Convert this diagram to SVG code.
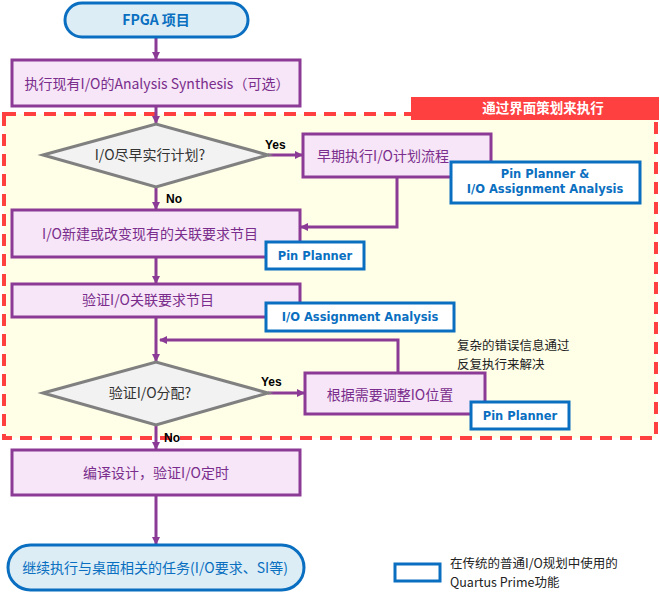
<svg xmlns="http://www.w3.org/2000/svg" width="660" height="595" viewBox="0 0 660 595">
<defs>
<marker id="ah" markerWidth="8" markerHeight="8" refX="7" refY="4" orient="auto" markerUnits="userSpaceOnUse">
<path d="M0,0 L8,4 L0,8 Z" fill="#8b3a96"/>
</marker>
<style>
.term{fill:#dcedf6;stroke:#0a6fc0;stroke-width:3}
.proc{fill:#f6e6f7;stroke:#8b3a96;stroke-width:3}
.dec{fill:#f2f2f2;stroke:#808080;stroke-width:3}
.tool{fill:#ffffff;stroke:#0a6fc0;stroke-width:3}
.pt{font-family:"Noto Sans CJK SC","Noto Sans",sans-serif;font-size:14px;fill:#7a2d8c;text-anchor:middle}
.dt{font-family:"Noto Sans CJK SC","Noto Sans",sans-serif;font-size:14px;fill:#333333;text-anchor:middle}
.tt{font-family:"Noto Sans CJK SC","Noto Sans",sans-serif;font-size:14px;fill:#0a6fc0;text-anchor:middle}
.bt{font-family:"DejaVu Sans",Verdana,sans-serif;font-size:11.5px;font-weight:bold;fill:#0a6fc0;text-anchor:middle}
.yn{font-family:"Liberation Sans",Arial,sans-serif;font-size:12px;font-weight:bold;fill:#000000}
.note{font-family:"Noto Sans CJK SC",sans-serif;font-size:12.5px;fill:#222222}
.cn{fill:none;stroke:#8b3a96;stroke-width:3}
</style>
</defs>
<rect width="660" height="595" fill="#ffffff"/>

<g id="region">
<rect x="4" y="114" width="652" height="324" fill="#fffee6" stroke="#ff4040" stroke-width="4" stroke-dasharray="12,8"/>
<rect x="411" y="97" width="248" height="23" fill="#ff4040"/>
<text x="543" y="113" font-family="Noto Sans CJK SC,sans-serif" font-size="13.5" font-weight="bold" fill="#ffffff" text-anchor="middle">通过界面策划来执行</text>
</g>

<g id="connectors">
<line class="cn" x1="156" y1="38" x2="156" y2="59" marker-end="url(#ah)"/>
<line class="cn" x1="156" y1="107" x2="156" y2="123" marker-end="url(#ah)"/>
<line class="cn" x1="268" y1="155" x2="302" y2="155" marker-end="url(#ah)"/>
<polyline class="cn" points="397,177 397,227 301,227" marker-end="url(#ah)"/>
<line class="cn" x1="156" y1="187" x2="156" y2="209" marker-end="url(#ah)"/>
<line class="cn" x1="156" y1="258" x2="156" y2="283" marker-end="url(#ah)"/>
<line class="cn" x1="156" y1="318" x2="156" y2="361" marker-end="url(#ah)"/>
<polyline class="cn" points="398,373 398,340 160,340" marker-end="url(#ah)"/>
<line class="cn" x1="268" y1="393" x2="304" y2="393" marker-end="url(#ah)"/>
<line class="cn" x1="156" y1="425" x2="156" y2="449" marker-end="url(#ah)"/>
<line class="cn" x1="156" y1="496" x2="156" y2="544" marker-end="url(#ah)"/>
<text class="yn" x="265" y="149">Yes</text>
<text class="yn" x="166" y="203">No</text>
<text class="yn" x="261" y="386">Yes</text>
<text class="yn" x="164" y="442">No</text>
</g>

<g id="start">
<rect class="term" x="65" y="3" width="183" height="34" rx="17"/>
<text class="tt" x="156" y="25" font-weight="bold">FPGA 项目</text>
</g>

<g id="step1">
<rect class="proc" x="12" y="60" width="288" height="46"/>
<text class="pt" x="157" y="89">执行现有I/O的Analysis Synthesis（可选）</text>
</g>

<g id="decision1">
<polygon class="dec" points="43,155 156,124 268,155 156,187"/>
<text class="dt" x="150" y="160">I/O尽早实行计划?</text>
</g>

<g id="early">
<rect class="proc" x="303" y="134" width="188" height="43"/>
<text class="pt" x="383" y="161">早期执行I/O计划流程</text>
</g>

<g id="tool1">
<rect class="tool" x="451" y="162" width="189" height="41"/>
<text class="bt" x="545" y="178">Pin Planner &amp;<tspan x="545" dy="15">I/O Assignment Analysis</tspan></text>
</g>

<g id="step2">
<rect class="proc" x="12" y="210" width="288" height="47"/>
<text class="pt" x="150" y="239">I/O新建或改变现有的关联要求节目</text>
</g>

<g id="tool2">
<rect class="tool" x="266" y="242" width="98" height="27"/>
<text class="bt" x="315" y="260">Pin Planner</text>
</g>

<g id="step3">
<rect class="proc" x="12" y="284" width="288" height="33"/>
<text class="pt" x="148" y="305">验证I/O关联要求节目</text>
</g>

<g id="tool3">
<rect class="tool" x="266" y="303" width="188" height="28"/>
<text class="bt" x="360" y="321">I/O Assignment Analysis</text>
</g>

<g id="decision2">
<polygon class="dec" points="43,393 156,362 268,393 156,425"/>
<text class="dt" x="150" y="398">验证I/O分配?</text>
</g>

<g id="adjust">
<rect class="proc" x="305" y="373" width="180" height="41"/>
<text class="pt" x="390" y="400">根据需要调整IO位置</text>
</g>

<g id="tool4">
<rect class="tool" x="471" y="402" width="98" height="27"/>
<text class="bt" x="520" y="420">Pin Planner</text>
</g>

<g id="note">
<text class="note" x="457" y="350">复杂的错误信息通过</text>
<text class="note" x="457" y="368.5">反复执行来解决</text>
</g>

<g id="step4">
<rect class="proc" x="12" y="450" width="288" height="45"/>
<text class="pt" x="156" y="478">编译设计，验证I/O定时</text>
</g>

<g id="end">
<rect class="term" x="8" y="545" width="296" height="45" rx="22.5"/>
<text class="tt" x="155" y="573">继续执行与桌面相关的任务(I/O要求、SI等)</text>
</g>

<g id="legend">
<rect x="395" y="564" width="45" height="17" fill="#ffffff" stroke="#0a6fc0" stroke-width="3"/>
<text class="note" x="450" y="568">在传统的普通I/O规划中使用的</text>
<text class="note" x="450" y="586.5">Quartus Prime功能</text>
</g>
</svg>
